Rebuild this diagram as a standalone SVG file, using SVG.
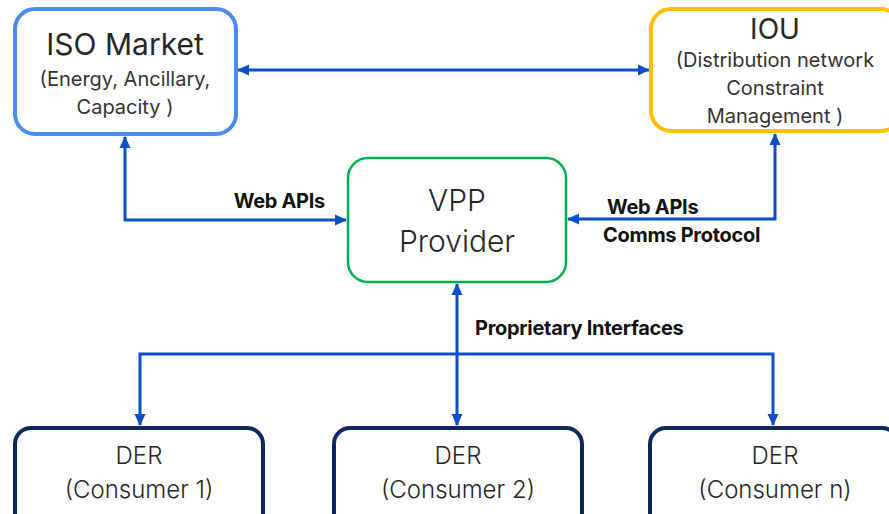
<svg xmlns="http://www.w3.org/2000/svg" width="889" height="514" viewBox="0 0 889 514">
  <defs>
    <marker id="arrow" markerUnits="userSpaceOnUse" markerWidth="12" markerHeight="12" viewBox="0 0 12 12" refX="11" refY="6" orient="auto-start-reverse">
      <path d="M0,0.5 L12,6 L0,11.5 Z" fill="#0a4fc8"/>
    </marker>
    <style>
      .box { fill: #ffffff; }
      .title { font-family: Inter, "Liberation Sans", sans-serif; fill: #262626; text-anchor: middle; }
      .sub { font-family: Inter, "Liberation Sans", sans-serif; fill: #333333; text-anchor: middle; }
      .lite { font-weight: 300; }
      .lbl { font-family: Inter, "Liberation Sans", sans-serif; font-weight: 700; fill: #111111; font-size: 20px; letter-spacing: -0.3px; }
      .link { fill: none; stroke: #0a4fc8; stroke-width: 3; }
    </style>
  </defs>
  <rect width="889" height="514" fill="#ffffff"/>

  <g id="connectors">
    <!-- ISO Market <-> IOU -->
    <path class="link" d="M238,70 H649" marker-start="url(#arrow)" marker-end="url(#arrow)"/>
    <!-- ISO Market <-> VPP Provider -->
    <path class="link" d="M125,137 V220 H346" marker-start="url(#arrow)" marker-end="url(#arrow)"/>
    <!-- IOU <-> VPP Provider -->
    <path class="link" d="M775,134 V219 H568" marker-start="url(#arrow)" marker-end="url(#arrow)"/>
    <!-- VPP Provider <-> DER consumers -->
    <path class="link" d="M457,284 V425" marker-start="url(#arrow)" marker-end="url(#arrow)"/>
    <path class="link" d="M140,425 V354 H773 V425" marker-start="url(#arrow)" marker-end="url(#arrow)"/>
  </g>

  <g id="labels">
    <text class="lbl" x="325" y="208" text-anchor="end">Web APIs</text>
    <text class="lbl" x="607" y="214">Web APIs</text>
    <text class="lbl" x="603" y="242">Comms Protocol</text>
    <text class="lbl" x="475" y="335">Proprietary Interfaces</text>
  </g>

  <g id="iso-market">
    <rect class="box" x="15" y="9" width="221" height="125" rx="20" stroke="#4a8cf2" stroke-width="4"/>
    <text class="title" x="125" y="55" font-size="30">ISO Market</text>
    <text class="sub" x="125" y="86" font-size="20">(Energy, Ancillary,</text>
    <text class="sub" x="125" y="114" font-size="20">Capacity )</text>
  </g>

  <g id="iou">
    <rect class="box" x="651" y="9" width="250" height="122" rx="20" stroke="#ffc000" stroke-width="4"/>
    <text class="title" x="775" y="39" font-size="28">IOU</text>
    <text class="sub" x="775" y="67" font-size="20">(Distribution network</text>
    <text class="sub" x="775" y="95" font-size="20">Constraint</text>
    <text class="sub" x="775" y="123" font-size="20">Management )</text>
  </g>

  <g id="vpp-provider">
    <rect class="box" x="348" y="158" width="218" height="124" rx="20" stroke="#00b050" stroke-width="2.5"/>
    <text class="title lite" x="457" y="211" font-size="30">VPP</text>
    <text class="title lite" x="457" y="252" font-size="30">Provider</text>
  </g>

  <g id="der-1">
    <rect class="box" x="15" y="428" width="248" height="110" rx="16" stroke="#0d2860" stroke-width="4"/>
    <text class="title lite" x="139" y="464" font-size="24">DER</text>
    <text class="title lite" x="139" y="498" font-size="24">(Consumer 1)</text>
  </g>

  <g id="der-2">
    <rect class="box" x="334" y="428" width="248" height="110" rx="16" stroke="#0d2860" stroke-width="4"/>
    <text class="title lite" x="458" y="464" font-size="24">DER</text>
    <text class="title lite" x="458" y="498" font-size="24">(Consumer 2)</text>
  </g>

  <g id="der-n">
    <rect class="box" x="650" y="428" width="248" height="110" rx="16" stroke="#0d2860" stroke-width="4"/>
    <text class="title lite" x="775" y="464" font-size="24">DER</text>
    <text class="title lite" x="775" y="498" font-size="24">(Consumer n)</text>
  </g>
</svg>
